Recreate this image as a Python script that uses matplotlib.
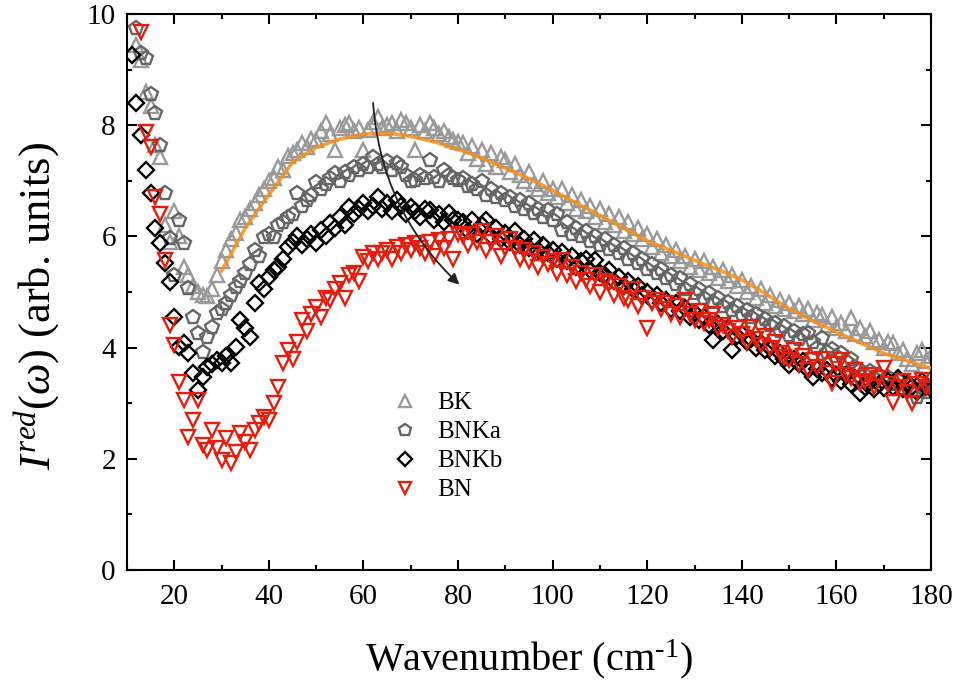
# -*- coding: utf-8 -*-
"""
Reduced far-infrared response of the BK / BNKa / BNKb / BN series
"""

# %% Init
import numpy as np
import matplotlib.pyplot as plt
from matplotlib.ticker import MultipleLocator
from matplotlib.patches import FancyArrowPatch

plt.rcParams['font.family'] = 'Liberation Serif'
plt.rcParams['mathtext.fontset'] = 'custom'
plt.rcParams['mathtext.rm'] = 'Liberation Serif'
plt.rcParams['mathtext.it'] = 'Liberation Serif:italic'

# %% Data (1 cm^-1 steps)
wn_bk = np.arange(12, 181)
bk = [9.45, 9.17, 8.6, 8.35, 7.65, 7.43, 6.2, 5.9, 6.45,
      6.0, 5.45, 5.3, 5.1, 5.0, 4.95, 4.93, 5.05, 5.3, 5.55,
      5.76, 5.95, 6.06, 6.3, 6.35, 6.5, 6.6, 6.75, 6.85, 7.0,
      7.05, 7.25, 7.2, 7.45, 7.5, 7.55, 7.68, 7.6, 7.75, 7.73,
      7.9, 8.04, 7.85, 7.55, 7.95, 8.0, 8.04, 7.9, 7.95, 7.55,
      7.91, 8.05, 8.15, 7.95, 8.0, 8.04, 7.9, 8.1, 8.04, 7.95,
      7.55, 8.0, 7.9, 8.04, 7.95, 7.85, 7.9, 7.79, 7.73, 7.7,
      7.68, 7.5, 7.62, 7.4, 7.55, 7.3, 7.5, 7.25, 7.42, 7.37,
      7.15, 7.3, 7.1, 7.0, 7.15, 6.95, 6.85, 7.0, 6.78, 6.85,
      6.7, 6.85, 6.6, 6.75, 6.5, 6.65, 6.45, 6.55, 6.35, 6.5,
      6.25, 6.4, 6.2, 6.35, 6.1, 6.25, 6.05, 6.15, 5.95, 6.05,
      5.81, 5.95, 5.7, 5.85, 5.65, 5.75, 5.55, 5.65, 5.45, 5.6,
      5.4, 5.55, 5.35, 5.45, 5.25, 5.4, 5.2, 5.3, 5.1, 5.22,
      5.0, 5.1, 4.9, 5.05, 4.8, 4.95, 4.75, 4.86, 4.7, 4.8,
      4.65, 4.75, 4.6, 4.7, 4.5, 4.62, 4.59, 4.4, 4.55, 4.35,
      4.45, 4.3, 4.53, 4.25, 4.35, 4.2, 4.3, 4.1, 4.14, 4.0,
      4.1, 4.08, 3.9, 3.95, 3.8, 3.7, 3.9, 3.96, 3.75, 3.85]

wn_bnka = np.arange(12, 181)
bnka = [9.75, 9.3, 9.2, 8.56, 8.22, 7.64, 6.78, 5.97, 5.3,
        6.3, 5.88, 5.07, 4.55, 4.26, 3.92, 4.19, 4.37, 4.62, 4.7,
        4.8, 4.95, 5.09, 5.2, 5.34, 5.5, 5.76, 5.65, 5.99, 6.05,
        5.99, 6.2, 6.25, 6.35, 6.4, 6.78, 6.55, 6.65, 6.75, 6.97,
        6.85, 6.95, 7.05, 7.14, 7.0, 7.15, 7.1, 7.25, 7.2, 7.3,
        7.25, 7.43, 7.3, 7.25, 7.35, 7.2, 7.32, 7.25, 7.1, 7.0,
        7.01, 7.1, 7.05, 7.37, 7.07, 7.0, 7.19, 7.1, 7.05, 7.01,
        7.05, 6.9, 6.95, 6.85, 7.0, 6.75, 6.85, 6.7, 6.78, 6.65,
        6.7, 6.55, 6.65, 6.5, 6.6, 6.42, 6.5, 6.35, 6.48, 6.3,
        6.4, 6.12, 6.25, 6.05, 6.15, 6.0, 6.1, 5.92, 6.0, 5.85,
        5.95, 5.78, 5.85, 5.7, 5.8, 5.6, 5.7, 5.52, 5.6, 5.42,
        5.5, 5.35, 5.42, 5.25, 5.3, 5.15, 5.25, 5.05, 5.15, 4.98,
        5.05, 4.9, 4.98, 4.82, 4.9, 4.75, 4.82, 4.68, 4.75, 4.6,
        4.68, 4.55, 4.6, 4.45, 4.52, 4.4, 4.45, 4.3, 4.38, 4.22,
        4.3, 4.15, 4.25, 4.26, 4.1, 4.0, 4.17, 3.92, 3.98, 3.85,
        3.9, 3.75, 3.8, 3.65, 3.6, 3.5, 3.58, 3.45, 3.5, 3.4,
        3.48, 3.35, 3.42, 3.28, 3.35, 3.22, 3.11, 3.3, 3.2, 3.3]

wn_bnkb = np.arange(11, 181)
bnkb = [9.26, 8.4, 7.82, 7.19, 6.78, 6.15, 5.88, 5.52, 5.18, 4.55,
        4.01, 4.08, 3.9, 3.54, 3.24, 3.47, 3.65, 3.7, 3.78, 3.72,
        3.85, 3.72, 4.01, 4.5, 4.35, 4.19, 4.8, 5.16, 5.05, 5.27,
        5.4, 5.45, 5.6, 5.81, 5.9, 6.0, 5.85, 5.95, 6.05, 5.88,
        6.11, 6.0, 6.24, 6.15, 6.35, 6.2, 6.53, 6.4, 6.5, 6.6,
        6.45, 6.55, 6.71, 6.5, 6.6, 6.45, 6.65, 6.55, 6.4, 6.53,
        6.45, 6.35, 6.5, 6.47, 6.3, 6.4, 6.25, 6.42, 6.3, 6.29,
        6.25, 6.1, 6.3, 6.05, 6.2, 6.29, 6.0, 6.15, 5.95, 6.06,
        5.9, 6.1, 5.85, 5.95, 5.8, 5.94, 5.75, 5.85, 5.7, 5.76,
        5.6, 5.72, 5.55, 5.65, 5.45, 5.55, 5.6, 5.4, 5.58, 5.35,
        5.3, 5.4, 5.2, 5.27, 5.1, 5.2, 5.05, 5.1, 4.95, 5.0,
        4.85, 4.95, 4.8, 4.85, 4.7, 4.8, 4.65, 4.72, 4.55, 4.62,
        4.5, 4.55, 4.4, 4.14, 4.42, 4.3, 4.35, 3.96, 4.2, 4.25,
        4.1, 4.15, 4.0, 4.08, 3.95, 4.0, 3.85, 3.9, 3.8, 3.69,
        3.8, 3.7, 3.75, 3.6, 3.47, 3.62, 3.55, 3.6, 3.45, 3.5,
        3.4, 3.5, 3.35, 3.45, 3.18, 3.3, 3.38, 3.25, 3.35, 3.28,
        3.4, 3.3, 3.45, 3.25, 3.35, 3.3, 3.2, 3.4, 3.3, 3.25]

wn_bn = np.arange(13, 181)
bn = [9.68, 7.88, 7.6, 6.7, 6.4, 5.58, 4.4, 4.05,
      3.38, 3.06, 2.39, 2.7, 3.06, 2.25, 2.16, 2.52, 2.2, 1.98,
      2.37, 1.92, 2.12, 2.46, 2.3, 2.16, 2.52, 2.64, 2.75, 2.7,
      3.0, 3.3, 3.72, 3.96, 3.8, 4.1, 4.5, 4.3, 4.6, 4.73,
      4.55, 4.9, 4.85, 5.05, 5.16, 4.9, 5.3, 5.34, 5.2, 5.63,
      5.55, 5.7, 5.6, 5.7, 5.75, 5.6, 5.81, 5.7, 5.85, 5.75,
      5.88, 5.8, 5.7, 5.9, 5.65, 5.94, 5.8, 5.95, 5.6, 6.05,
      6.0, 5.85, 6.05, 5.9, 6.1, 5.75, 5.9, 6.0, 5.65, 5.8,
      5.95, 5.8, 5.6, 5.75, 5.55, 5.7, 5.45, 5.63, 5.5, 5.55,
      5.35, 5.57, 5.3, 5.45, 5.2, 5.35, 5.22, 5.1, 5.3, 5.0,
      5.2, 5.16, 4.95, 5.1, 4.9, 4.86, 5.05, 4.75, 4.9, 4.35,
      4.8, 4.85, 4.7, 4.8, 4.6, 4.75, 4.55, 4.86, 4.6, 4.5,
      4.65, 4.45, 4.5, 4.6, 4.35, 4.4, 4.3, 4.19, 4.35, 4.25,
      4.1, 4.37, 4.15, 4.05, 4.2, 4.0, 4.1, 3.9, 3.83, 3.78,
      3.95, 3.7, 3.85, 3.6, 3.78, 3.65, 3.8, 3.55, 3.36, 3.7,
      3.78, 3.5, 3.45, 3.6, 3.36, 3.4, 3.5, 3.3, 3.45, 3.63,
      3.35, 3.02, 3.3, 3.4, 3.2, 3.0, 3.35, 3.42, 3.3, 3.25]

# fit to the BK spectrum
wn_fit = np.arange(30, 181, 5)
fit_bk = [5.38, 6.15, 6.75, 7.33, 7.6, 7.75, 7.84, 7.86, 7.8, 7.7,
          7.57, 7.41, 7.23, 7.04, 6.83, 6.6, 6.38, 6.15, 5.92, 5.75,
          5.57, 5.4, 5.22, 4.97, 4.7, 4.48, 4.28, 4.09, 3.9, 3.76, 3.63]

# %% Plot
fig = plt.figure(figsize=(9.59, 6.86), dpi=100)
ax = fig.add_axes([0.1324, 0.1691, 0.8384, 0.8105])

mk = dict(ls='none', mfc='none', mew=1.7)
ax.plot(wn_bk, bk, marker='^', ms=10.5, mec='#9a9a9a', label='BK', **mk)
ax.plot(wn_bnka, bnka, marker='p', ms=10.5, mec='#666666', label='BNKa', **mk)
ax.plot(wn_bnkb, bnkb, marker='D', ms=8.3, mec='#000000', label='BNKb', **mk)
ax.plot(wn_bn, bn, marker='v', ms=10.5, mec='#e41d0c', label='BN', **mk)
ax.plot(wn_fit, fit_bk, color='#f39020', lw=2.6, alpha=0.85, zorder=3)

arrow = FancyArrowPatch((62, 8.45), (80.7, 5.1), connectionstyle='arc3,rad=0.2',
                        arrowstyle='-|>', mutation_scale=16, lw=1.3,
                        color='#222222', zorder=5)
ax.add_patch(arrow)

ax.set_xlim(10, 180)
ax.set_ylim(0, 10)
ax.set_xticks(np.arange(20, 181, 20))
ax.set_yticks(np.arange(0, 11, 2))
ax.xaxis.set_minor_locator(MultipleLocator(10))
ax.yaxis.set_minor_locator(MultipleLocator(1))
ax.tick_params(which='both', direction='in', top=True, right=True, width=1.5,
               labelsize=21)
ax.tick_params(which='major', length=7)
ax.tick_params(which='minor', length=3.5)
ax.tick_params(axis='x', pad=10)
ax.tick_params(axis='y', pad=8)
for s in ax.spines.values():
    s.set_linewidth(1.5)

ax.set_xlabel(r'Wavenumber (cm$^{\text{-1}}$)', fontsize=29, labelpad=20)
ax.set_ylabel(r'$I^{red}(\omega)$ (arb. units)', fontsize=32)
ax.yaxis.set_label_coords(-0.081, 0.475)

ax.legend(loc='center left', bbox_to_anchor=(0.330, 0.222), frameon=False,
          fontsize=18, handlelength=1.0, handletextpad=0.8, labelspacing=0.26,
          borderpad=0, borderaxespad=0, markerscale=0.85)

plt.savefig('out.png', dpi=100)
